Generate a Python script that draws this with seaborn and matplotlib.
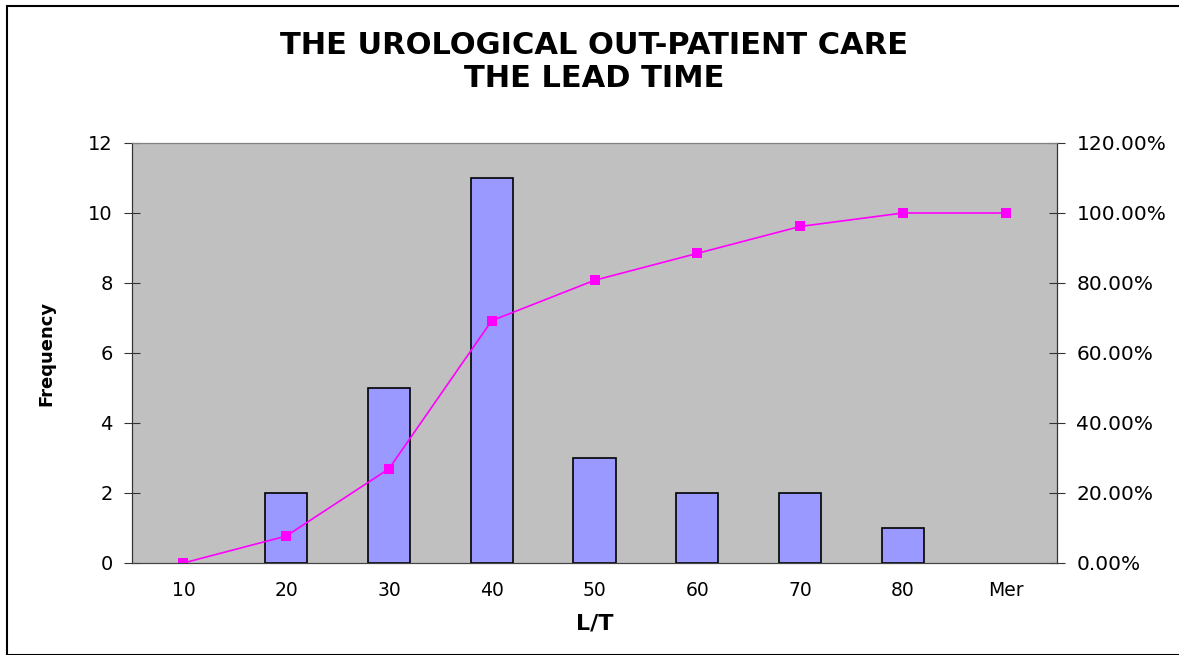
import matplotlib
matplotlib.use("Agg")
import matplotlib.pyplot as plt
import matplotlib.ticker
import seaborn as sns
import pandas as pd
from matplotlib.patches import Rectangle

bins = ["10", "20", "30", "40", "50", "60", "70", "80", "Mer"]
frequency = [0, 2, 5, 11, 3, 2, 2, 1, 0]
cumulative = [0.0, 7.69, 26.92, 69.23, 80.77, 88.46, 96.15, 100.0, 100.0]

df = pd.DataFrame({"L/T": bins, "Frequency": frequency,
                   "Cumulative": [c / 100 for c in cumulative]})

sns.set_style("white")
plt.rcParams['font.family'] = ['DejaVu Sans']
plt.rcParams['text.color'] = 'black'
plt.rcParams['axes.labelcolor'] = 'black'
plt.rcParams['xtick.color'] = 'black'
plt.rcParams['ytick.color'] = 'black'

fig = plt.figure(figsize=(11.79, 6.55), dpi=100)
ax = fig.add_axes([132 / 1179, 1 - 563 / 655, 925 / 1179, 420 / 655])
ax.set_facecolor("#C0C0C0")

sns.barplot(x="L/T", y="Frequency", data=df, order=bins, color="#9999FF",
            saturation=1, width=0.41, edgecolor="black", linewidth=1.2, ax=ax)
# empty bins draw nothing
for bar in ax.patches:
    if bar.get_height() == 0:
        bar.set_visible(False)
ax.set_xlim(-0.5, len(bins) - 0.5)
ax.set_ylim(0, 12)
ax.set_yticks(range(0, 13, 2))
ax.set_xticks(range(len(bins)))
ax.set_xticklabels(bins)
ax.set_xticks([i - 0.5 for i in range(len(bins) + 1)], minor=True)
ax.tick_params(axis="x", which="major", length=0, labelsize=13.5, pad=13)
ax.tick_params(axis="x", which="minor", length=10, direction="inout",
               color="#333333")
ax.tick_params(axis="y", length=12, direction="inout", labelsize=14,
               pad=8, color="#333333")
ax.set_xlabel("L/T", fontsize=16, fontweight="bold", labelpad=10)
ax.set_ylabel("Frequency", fontsize=13, fontweight="bold", labelpad=23)

ax2 = ax.twinx()
sns.lineplot(x="L/T", y="Cumulative", data=df, color="#FF00FF", marker="s",
             markersize=7, markeredgewidth=0, linewidth=1.2, ax=ax2)
ax2.set_ylim(0, 1.2)
ax2.set_yticks([i * 0.2 for i in range(7)])
ax2.yaxis.set_major_formatter(
    matplotlib.ticker.FuncFormatter(lambda v, p: "{:.2f}%".format(v * 100)))
ax2.tick_params(axis="y", length=12, direction="inout", labelsize=14.5,
                pad=8, color="#333333")
ax2.set_ylabel("")
ax2.set_xlim(-0.5, len(bins) - 0.5)

for a in (ax, ax2):
    a.spines["top"].set_color("#808080")
    a.spines["bottom"].set_color("#444444")
    a.spines["left"].set_color("#333333")
    a.spines["right"].set_color("#333333")

ax.set_title("THE UROLOGICAL OUT-PATIENT CARE\nTHE LEAD TIME", fontsize=22,
             fontweight="bold", pad=40, linespacing=1.2)

fig.patches.append(Rectangle((7 / 1179, 0), 1.0, 1 - 6 / 655,
                             transform=fig.transFigure, fill=False,
                             edgecolor="black", linewidth=1.5))

plt.savefig("out.png", dpi=100)
